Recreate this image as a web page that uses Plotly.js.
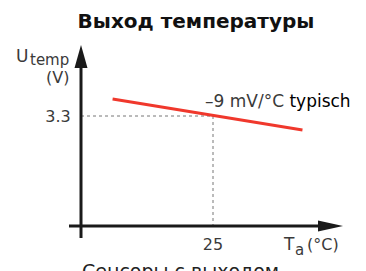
<!DOCTYPE html>
<html>
<head>
<meta charset="utf-8">
<script src="https://cdn.plot.ly/plotly-3.0.1.min.js"></script>
<style>html,body{margin:0;padding:0;background:#fff;}#chart{width:366px;height:271px;}</style>
</head>
<body>
<div id="chart"></div>
<script>
// Data
const lineTemp = [-30, 74];          // °C
const lineVolt = [3.81, 2.88];       // V  (≈ -9 mV/°C)
const refTemp = [25];                // °C
const refVolt = [3.3];               // V
const xTickVals = [25];
const xTickText = ['25'];
const yTickVals = [3.3];
const yTickText = ['3.3'];
const xRange = [-47.3, 96.2];
const yRange = [0, 5.43];

const FAM = 'DejaVu Sans, Verdana, sans-serif';
const lightFont = {family: FAM, size: 16, color: '#3a3a3a'};

const traces = [
  {
    x: [xRange[0], refTemp[0], refTemp[0]],
    y: [refVolt[0], refVolt[0], yRange[0]],
    mode: 'lines',
    line: {color: '#777', width: 1, dash: 'dot'},
    hoverinfo: 'skip'
  },
  {
    x: lineTemp,
    y: lineVolt,
    mode: 'lines',
    line: {color: '#f0382c', width: 3}
  }
];

const layout = {
  width: 366, height: 271,
  margin: {l: 81, r: 23, t: 45, b: 45},
  paper_bgcolor: '#fff', plot_bgcolor: '#fff',
  showlegend: false,
  font: lightFont,
  title: {
    text: 'Выход температуры',
    font: {family: FAM, size: 20, color: '#111', weight: 'bold'},
    xref: 'container', yref: 'container',
    x: 196/366, xanchor: 'center',
    y: 1 - 21/271, yanchor: 'middle'
  },
  xaxis: {
    range: xRange, showgrid: false, zeroline: false, showline: false,
    tickvals: xTickVals, ticktext: xTickText,
    ticks: 'outside', ticklen: 4, tickcolor: 'rgba(0,0,0,0)',
    tickfont: lightFont, fixedrange: true
  },
  yaxis: {
    range: yRange, showgrid: false, zeroline: false, showline: false,
    tickvals: yTickVals, ticktext: yTickText,
    ticks: 'outside', ticklen: 6, tickcolor: 'rgba(0,0,0,0)',
    tickfont: lightFont, fixedrange: true
  },
  shapes: [
    {type: 'line', xref: 'paper', yref: 'paper', x0: 0, x1: 0, y0: -12/181, y1: 1 - 20/181,
     line: {color: '#1a1a1a', width: 3}},
    {type: 'line', xref: 'paper', yref: 'paper', x0: -12/262, x1: 1 - 20/262, y0: 0, y1: 0,
     line: {color: '#1a1a1a', width: 3}},
    {type: 'path', xref: 'paper', yref: 'paper', xsizemode: 'pixel', ysizemode: 'pixel',
     xanchor: 0, yanchor: 1, path: 'M -6.5 -23 L 0 0 L 6.5 -23 Z',
     fillcolor: '#1a1a1a', line: {width: 0}},
    {type: 'path', xref: 'paper', yref: 'paper', xsizemode: 'pixel', ysizemode: 'pixel',
     xanchor: 1, yanchor: 0, path: 'M -25 -5.5 L 0 0 L -25 5.5 Z',
     fillcolor: '#1a1a1a', line: {width: 0}}
  ],
  annotations: [
    {text: 'U', xref: 'paper', yref: 'paper', x: 0, y: 1, xanchor: 'right', yanchor: 'middle',
     xshift: -51, yshift: -11, showarrow: false, font: {family: FAM, size: 17, color: '#3a3a3a'}},
    {text: 'temp', xref: 'paper', yref: 'paper', x: 0, y: 1, xanchor: 'right', yanchor: 'middle',
     xshift: -10, yshift: -15, showarrow: false, font: {family: FAM, size: 15, color: '#3a3a3a'}},
    {text: '(V)', xref: 'paper', yref: 'paper', x: 0, y: 1, xanchor: 'right', yanchor: 'middle',
     xshift: -10, yshift: -32, showarrow: false, font: {family: FAM, size: 16, color: '#3a3a3a'}},
    {text: 'T', xref: 'paper', yref: 'paper', x: 1, y: 0, xanchor: 'right', yanchor: 'middle',
     xshift: -46, yshift: -18, showarrow: false, font: {family: FAM, size: 17, color: '#3a3a3a'}},
    {text: 'a', xref: 'paper', yref: 'paper', x: 1, y: 0, xanchor: 'right', yanchor: 'middle',
     xshift: -37, yshift: -24, showarrow: false, font: {family: FAM, size: 15, color: '#3a3a3a'}},
    {text: '(°C)', xref: 'paper', yref: 'paper', x: 1, y: 0, xanchor: 'right', yanchor: 'middle',
     xshift: -2, yshift: -18, showarrow: false, font: {family: FAM, size: 16, color: '#3a3a3a'}},
    {text: '<span style="color:#3a3a3a">–9 mV/°C</span> <span style="color:#000">typisch</span>',
     xref: 'paper', yref: 'paper', x: (203-81)/262, y: (226-101)/181, xanchor: 'left', yanchor: 'middle',
     showarrow: false, font: {family: FAM, size: 17, color: '#000'}},
    {text: 'Сенсоры с выходом', xref: 'paper', yref: 'paper', x: (180-81)/262, y: (226-258)/181,
     xanchor: 'center', yanchor: 'top', showarrow: false,
     font: {family: FAM, size: 19, color: '#222'}}
  ]
};

Plotly.newPlot('chart', traces, layout, {displayModeBar: false, staticPlot: true});
</script>
</body>
</html>
